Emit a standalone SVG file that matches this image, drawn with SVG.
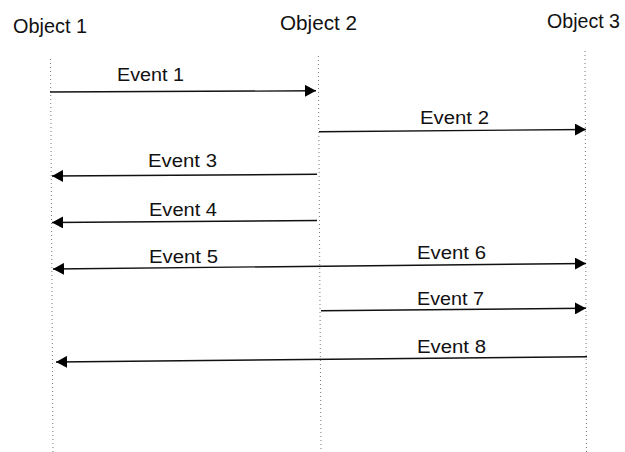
<svg xmlns="http://www.w3.org/2000/svg" width="625" height="452" viewBox="0 0 625 452">
<style>
.title{font-family:"Liberation Sans",Arial,sans-serif;font-size:20px;fill:#111}
.lbl{font-family:"Liberation Sans",Arial,sans-serif;font-size:17.5px;fill:#111}
.life{stroke:#777;stroke-width:1;stroke-dasharray:1 3;fill:none}
.msg{stroke:#111;stroke-width:1.4;fill:none}
</style>
<defs>
<marker id="ah" viewBox="0 0 11 12" refX="11" refY="6" markerWidth="11" markerHeight="12" markerUnits="userSpaceOnUse" orient="auto-start-reverse">
<path d="M0,0 L11,6 L0,12 Z" fill="#000"/>
</marker>
</defs>
<rect width="625" height="452" fill="#fff"/>
<g id="object1">
<text class="title" x="13" y="33" textLength="74" lengthAdjust="spacingAndGlyphs">Object 1</text>
<line class="life" x1="50.5" y1="59" x2="53" y2="452"/>
</g>
<g id="object2">
<text class="title" x="280" y="30" textLength="77" lengthAdjust="spacingAndGlyphs">Object 2</text>
<line class="life" x1="318.3" y1="56" x2="321" y2="452"/>
</g>
<g id="object3">
<text class="title" x="547" y="28" textLength="73" lengthAdjust="spacingAndGlyphs">Object 3</text>
<line class="life" x1="585" y1="51" x2="586.5" y2="452"/>
</g>
<g id="connectors">
<line class="msg" x1="50" y1="92" x2="316" y2="90.8" marker-end="url(#ah)"/>
<text class="lbl" x="117" y="80.5" textLength="67" lengthAdjust="spacingAndGlyphs">Event 1</text>
<line class="msg" x1="319" y1="131.7" x2="586" y2="129.5" marker-end="url(#ah)"/>
<text class="lbl" x="420" y="124" textLength="69" lengthAdjust="spacingAndGlyphs">Event 2</text>
<line class="msg" x1="317" y1="174.3" x2="52" y2="176" marker-end="url(#ah)"/>
<text class="lbl" x="148" y="166.5" textLength="69" lengthAdjust="spacingAndGlyphs">Event 3</text>
<line class="msg" x1="317" y1="220.5" x2="52" y2="222.5" marker-end="url(#ah)"/>
<text class="lbl" x="149" y="215.5" textLength="68" lengthAdjust="spacingAndGlyphs">Event 4</text>
<line class="msg" x1="53" y1="269" x2="586" y2="263.5" marker-start="url(#ah)" marker-end="url(#ah)"/>
<text class="lbl" x="149" y="262.5" textLength="69" lengthAdjust="spacingAndGlyphs">Event 5</text>
<text class="lbl" x="417" y="259" textLength="69" lengthAdjust="spacingAndGlyphs">Event 6</text>
<line class="msg" x1="321" y1="310.7" x2="586" y2="308.3" marker-end="url(#ah)"/>
<text class="lbl" x="417" y="305" textLength="67" lengthAdjust="spacingAndGlyphs">Event 7</text>
<line class="msg" x1="587" y1="356.7" x2="56" y2="362" marker-end="url(#ah)"/>
<text class="lbl" x="417" y="352.5" textLength="69" lengthAdjust="spacingAndGlyphs">Event 8</text>
</g>
</svg>
